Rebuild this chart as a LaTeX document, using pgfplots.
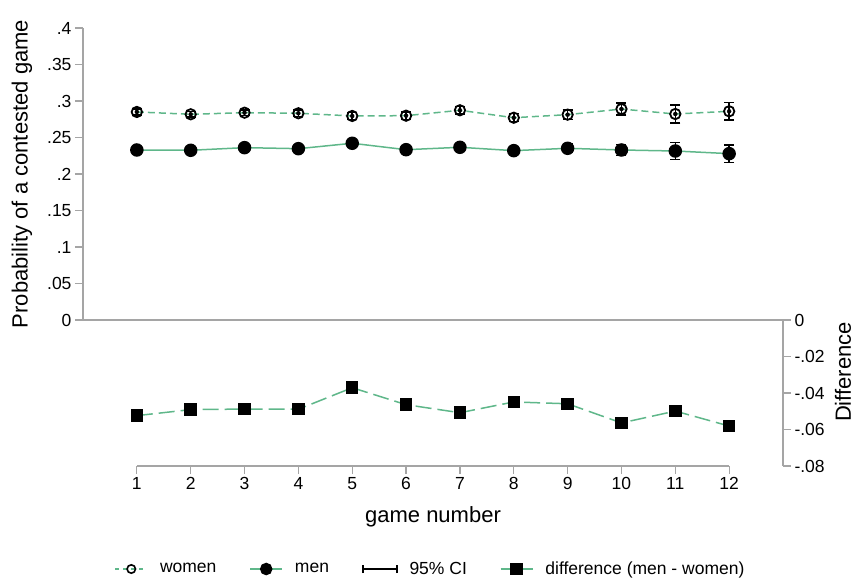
\documentclass[border=0pt]{standalone}
\usepackage{pgfplots}
\usepackage{pgfplotstable}
\pgfplotsset{compat=1.18}
\usepackage{fontspec}
\setmainfont{Liberation Sans}
\definecolor{lgreen}{RGB}{95,183,138}
\definecolor{axgray}{RGB}{165,165,165}

\pgfplotstableread{
x y e
1 0.2850 0.0040
2 0.2818 0.0040
3 0.2840 0.0040
4 0.2832 0.0045
5 0.2795 0.0045
6 0.2799 0.0050
7 0.2873 0.0050
8 0.2771 0.0055
9 0.2813 0.0065
10 0.2890 0.0085
11 0.2822 0.0120
12 0.2859 0.0118
}\women

\pgfplotstableread{
x y e
1 0.2329 0.0040
2 0.2325 0.0040
3 0.2361 0.0040
4 0.2347 0.0045
5 0.2421 0.0045
6 0.2333 0.0050
7 0.2366 0.0050
8 0.2320 0.0055
9 0.2352 0.0060
10 0.2329 0.0075
11 0.2315 0.0118
12 0.2279 0.0118
}\men

\pgfplotstableread{
x y
1 -0.0524
2 -0.0491
3 -0.0488
4 -0.0489
5 -0.0371
6 -0.0464
7 -0.0508
8 -0.0449
9 -0.0459
10 -0.0564
11 -0.0499
12 -0.0581
}\diff

\begin{document}
\begin{tikzpicture}
\useasboundingbox (0bp,0bp) rectangle (854bp,-581bp);
\pgfplotsset{
  base/.style={scale only axis, width=700bp, xmin=0, xmax=13,
    axis line style={axgray, line width=1.2bp, -},
    tick style={axgray, line width=1.2bp},
    major tick length=8bp, tick align=outside,
    tick label style={font=\fontsize{17.5bp}{20bp}\selectfont, black},
    /pgf/number format/assume math mode=true,
    scaled y ticks=false,
    clip=false,
  },
  cibars/.style={only marks, mark=none, forget plot,
    error bars/.cd, y dir=both, y explicit,
    error bar style={black, line width=1.5bp},
    error mark options={black, line width=1.5bp, mark size=5bp, rotate=90}},
}
\begin{axis}[base, at={(83bp,-320bp)}, anchor=south west, height=292bp,
  ymin=0, ymax=0.4, axis x line*=bottom, axis y line*=left,
  xtick=\empty,
  ytick={0,0.05,0.1,0.15,0.2,0.25,0.3,0.35,0.4},
  yticklabels={0,.05,.1,.15,.2,.25,.3,.35,.4},
  ylabel={Probability of a contested game},
  every axis y label/.style={at={(axis description cs:-0.0871,0.5)}, rotate=90, anchor=center, font=\fontsize{22bp}{26bp}\selectfont},
]
\addplot[lgreen, line width=1.5bp, dash pattern=on 7bp off 4bp, mark=o, mark size=5.2bp,
  mark options={solid, black, fill=white, line width=1.8bp}] table[x=x, y=y] {\women};
\addplot[lgreen, line width=1.5bp, mark=*, mark size=6bp, mark options={solid, black}] table[x=x, y=y] {\men};
\addplot[cibars] table[x=x, y=y, y error=e] {\women};
\addplot[cibars] table[x=x, y=y, y error=e] {\men};
\end{axis}

\begin{axis}[base, at={(83bp,-466bp)}, anchor=south west, height=146bp,
  ymin=-0.08, ymax=0, axis x line*=bottom, axis y line*=right,
  x axis line style={draw=none},
  xtick={1,2,3,4,5,6,7,8,9,10,11,12},
  ytick={-0.08,-0.06,-0.04,-0.02,0},
  yticklabels={-.08,-.06,-.04,-.02,0},
  xlabel={game number},
  ylabel={Difference},
  every axis x label/.style={at={(axis description cs:0.5,-0.349)}, anchor=center, font=\fontsize{22bp}{26bp}\selectfont},
  every axis y label/.style={at={(axis description cs:1.0857,0.644)}, rotate=90, anchor=center, font=\fontsize{22bp}{26bp}\selectfont},
  legend columns=4,
  legend style={at={(axis description cs:0.495,-0.7055)}, anchor=center, draw=none, fill=none,
    font=\fontsize{17.5bp}{20bp}\selectfont, inner sep=0pt, nodes={inner sep=0pt},
    /tikz/every even column/.append style={column sep=33bp},
    /tikz/every odd column/.append style={column sep=12bp}},
  legend cell align=left,
  legend image code/.code={\draw[mark repeat=2,mark phase=2,#1] plot coordinates {(0bp,0bp) (16bp,0bp) (32bp,0bp)};},
]
\draw[axgray, line width=1.2bp] (axis cs:1,-0.08) -- (axis cs:12,-0.08);
\addlegendimage{lgreen, line width=1.5bp, dash pattern=on 4bp off 4bp, mark=o, mark size=4.2bp, mark options={solid, black, fill=white, line width=1.6bp}}
\addlegendimage{lgreen, line width=1.5bp, mark=*, mark size=5.5bp, mark options={solid, black}}
\addlegendimage{black, line width=1.5bp, legend image code/.code={\draw[black, line width=1.5bp] (0bp,0bp) -- (34bp,0bp); \draw[black, line width=1.5bp] (0bp,-4bp) -- (0bp,4bp); \draw[black, line width=1.5bp] (34bp,-4bp) -- (34bp,4bp);}}
\addplot[lgreen, line width=1.5bp, dash pattern=on 16bp off 6bp, mark=square*, mark size=5.5bp, mark options={solid, black}] table[x=x, y=y] {\diff};
\legend{women, men, 95\% CI, difference (men - women)}
\end{axis}
\end{tikzpicture}
\end{document}
